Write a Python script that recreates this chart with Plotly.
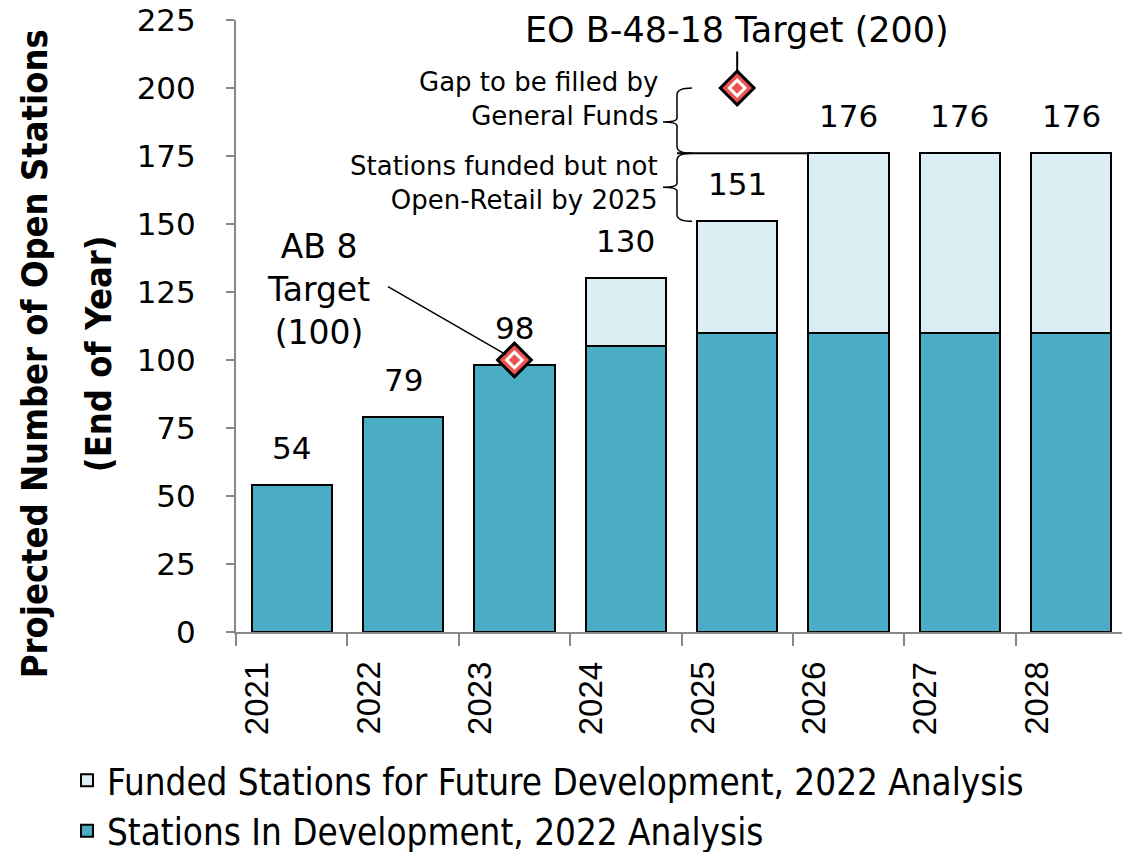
import plotly.graph_objects as go

years = ["2021", "2022", "2023", "2024", "2025", "2026", "2027", "2028"]
in_development = [54, 79, 98, 105, 110, 110, 110, 110]
funded_future = [0, 0, 0, 25, 41, 66, 66, 66]
totals = [a + b for a, b in zip(in_development, funded_future)]

target_years = ["2023", "2025"]
target_values = [100, 200]

DARK = "#4BACC6"
LIGHT = "#DAEEF3"
RED = "#EF5350"
FONT = "DejaVu Sans"
COND = "DejaVu Sans Condensed, DejaVu Sans"

# plot box on screen in pixels (page body adds an 8px offset)
OFF = 8
L, R, TOP, BOT = 236, 1127, 20, 632


def px(x):
    return (x - L) / (R - L)


def cat(yr):
    # annotations on a category axis take the category index
    return years.index(yr)


fig = go.Figure()

fig.add_trace(go.Bar(
    x=years, y=in_development, name="Stations In Development, 2022 Analysis",
    marker=dict(color=DARK, line=dict(color="black", width=2)),
))
fig.add_trace(go.Bar(
    x=years, y=funded_future, name="Funded Stations for Future Development, 2022 Analysis",
    marker=dict(color=LIGHT, line=dict(color="black", width=2)),
))

# target markers: black-edged red diamond with white ring
fig.add_trace(go.Scatter(
    x=target_years, y=target_values, mode="markers", showlegend=False,
    marker=dict(symbol="diamond", size=26, color=RED, line=dict(color="black", width=3)),
))
fig.add_trace(go.Scatter(
    x=target_years, y=target_values, mode="markers", showlegend=False,
    marker=dict(symbol="diamond", size=12, color=RED, line=dict(color="white", width=3)),
))

annotations = []

# value labels above bars
for yr, t in zip(years, totals):
    annotations.append(dict(
        x=cat(yr), y=t, text=str(t), showarrow=False, yanchor="bottom", yshift=17,
        font=dict(family=FONT, size=31, color="black"),
    ))

# x tick labels (rotated, sitting left of centre like the original)
for yr in years:
    annotations.append(dict(
        x=cat(yr), y=0, text=yr, showarrow=False, textangle=-90, yanchor="top",
        yshift=-28, xshift=-35,
        font=dict(family="Liberation Sans", size=33, color="black"),
    ))

# EO target label
annotations.append(dict(
    x=cat("2025"), y=200, text="EO B-48-18 Target (200)", showarrow=True, arrowhead=0,
    arrowwidth=2, arrowcolor="black", ax=0, ay=-58, standoff=16,
    font=dict(family=FONT, size=35, color="black"),
))

# AB 8 target label
annotations.append(dict(
    x=px(318), xref="paper", xanchor="center", y=126, text="AB 8<br>Target<br>(100)",
    showarrow=False, align="center", font=dict(family=FONT, size=33, color="black"),
))

annotations.append(dict(
    x=px(660), xref="paper", y=196, text="Gap to be filled by<br>General Funds",
    showarrow=False, xanchor="right", align="right",
    font=dict(family=FONT, size=26, color="black"),
))
annotations.append(dict(
    x=px(660), xref="paper", y=165, text="Stations funded but not<br>Open-Retail by 2025",
    showarrow=False, xanchor="right", align="right",
    font=dict(family=FONT, size=26, color="black"),
))

# y axis title, two lines placed separately
for line, xpix in [("Projected Number of Open Stations", 34), ("(End of Year)", 98)]:
    annotations.append(dict(
        x=px(xpix), xref="paper", xanchor="center", y=0.454, yref="paper",
        text=f"<b>{line}</b>", showarrow=False, textangle=-90,
        font=dict(family=COND, size=36, color="black"),
    ))

shapes = []
# AB 8 leader line
shapes.append(dict(type="line", xref="paper", yref="y", x0=px(388), y0=127, x1=px(506), y1=102,
                   line=dict(color="black", width=1.5)))
# horizontal 176 line from bracket to 2026 bar
shapes.append(dict(type="line", xref="paper", yref="y", x0=px(677), y0=176, x1=px(809), y1=176,
                   line=dict(color="black", width=2)))


def bracket(top, mid, bot):
    xa, xb, xn = px(692), px(677), px(663)
    return (f"M {xa},{top} Q {xb},{top} {xb},{top - 2.5} L {xb},{mid + 1.5} "
            f"Q {xb},{mid} {xn},{mid} Q {xb},{mid} {xb},{mid - 1.5} "
            f"L {xb},{bot + 2.5} Q {xb},{bot} {xa},{bot}")


shapes.append(dict(type="path", xref="paper", yref="y", path=bracket(200, 187.5, 176),
                   line=dict(color="black", width=1.5)))
shapes.append(dict(type="path", xref="paper", yref="y", path=bracket(176, 163.5, 151),
                   line=dict(color="black", width=1.5)))

fig.update_layout(
    width=1130, height=852,
    margin=dict(l=L - OFF, r=1130 - (R - OFF), t=TOP - OFF, b=852 - (BOT - OFF),
                autoexpand=False),
    paper_bgcolor="white", plot_bgcolor="white",
    barmode="stack", bargap=0.28,
    annotations=annotations, shapes=shapes,
    legend=dict(
        x=px(67), y=-0.193, xanchor="left", yanchor="top", orientation="v",
        traceorder="reversed",
        font=dict(family=COND, size=36.5, color="black"),
        tracegroupgap=0,
    ),
    xaxis=dict(
        type="category", range=[-0.5, 7.5], automargin=False,
        showticklabels=False, ticks="outside", tickson="boundaries", ticklen=12,
        tickwidth=2, tickcolor="#888888", showline=True, linecolor="#888888",
        linewidth=2, showgrid=False, zeroline=False,
    ),
    yaxis=dict(
        range=[0, 225], dtick=25, ticks="outside", ticklen=8, tickwidth=2,
        tickcolor="#888888", showline=True, linecolor="#888888", linewidth=2,
        showgrid=False, zeroline=False, ticklabelstandoff=24, automargin=False,
        ticklabeloverflow="allow",
        tickfont=dict(family=FONT, size=31, color="black"),
    ),
)

fig.write_html("out.html")
